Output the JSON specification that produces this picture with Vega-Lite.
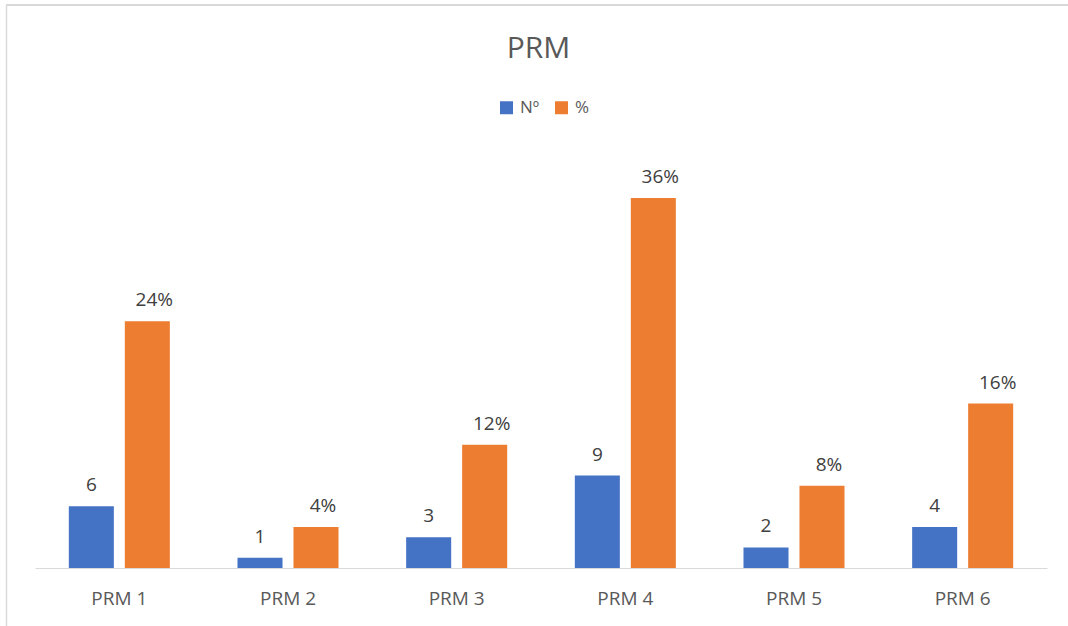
{
  "$schema": "https://vega.github.io/schema/vega-lite/v6.json",
  "width": 1062,
  "height": 621,
  "autosize": {"type": "none"},
  "padding": {"left": 6, "top": 5, "right": 0, "bottom": 0},
  "background": "white",
  "config": {"view": {"stroke": null}, "font": "Open Sans"},
  "data": {"values": [
    {"cat": "PRM 1", "series": "Nº", "value": 6, "label": "6"},
    {"cat": "PRM 1", "series": "%", "value": 24, "label": "24%"},
    {"cat": "PRM 2", "series": "Nº", "value": 1, "label": "1"},
    {"cat": "PRM 2", "series": "%", "value": 4, "label": "4%"},
    {"cat": "PRM 3", "series": "Nº", "value": 3, "label": "3"},
    {"cat": "PRM 3", "series": "%", "value": 12, "label": "12%"},
    {"cat": "PRM 4", "series": "Nº", "value": 9, "label": "9"},
    {"cat": "PRM 4", "series": "%", "value": 36, "label": "36%"},
    {"cat": "PRM 5", "series": "Nº", "value": 2, "label": "2"},
    {"cat": "PRM 5", "series": "%", "value": 8, "label": "8%"},
    {"cat": "PRM 6", "series": "Nº", "value": 4, "label": "4"},
    {"cat": "PRM 6", "series": "%", "value": 16, "label": "16%"}
  ]},
  "encoding": {
    "x": {"field": "cat", "type": "nominal", "sort": null,
      "scale": {"range": [29, 1041], "paddingInner": 0, "paddingOuter": 0},
      "axis": {"title": null, "orient": "bottom", "offset": -58, "domainColor": "#D9D9D9", "domainWidth": 1, "ticks": false, "labelPadding": 21, "labelFontSize": 19, "labelColor": "#595959", "labelFont": "Open Sans", "labelAngle": 0, "grid": false}},
    "xOffset": {"field": "series", "type": "nominal", "sort": ["Nº", "%"], "scale": {"paddingInner": 0.196, "paddingOuter": 0.604}},
    "y": {"field": "value", "type": "quantitative",
      "scale": {"domain": [-5.64, 54.77], "nice": false, "zero": false},
      "axis": {"title": "PRM", "titleAngle": 0, "titleX": 532, "titleY": 52, "titleAlign": "center", "titleBaseline": "alphabetic", "titleFontSize": 30, "titleFontWeight": "normal", "titleColor": "#595959", "titleFont": "Open Sans",
        "labels": false, "ticks": false, "grid": false, "domain": true, "domainColor": "#D9D9D9", "domainWidth": 1.5}}
  },
  "layer": [
    {"mark": {"type": "bar"},
     "encoding": {
       "y2": {"datum": 0},
       "color": {"field": "series", "type": "nominal", "sort": ["Nº", "%"],
         "scale": {"domain": ["Nº", "%"], "range": ["#4472C4", "#ED7D31"]},
         "legend": {"title": null, "orient": "none", "legendX": 492, "legendY": 94, "direction": "horizontal", "symbolType": "square", "symbolSize": 169, "symbolStrokeWidth": 0, "symbolOpacity": 1, "labelFontSize": 17, "labelColor": "#595959", "labelFont": "Open Sans", "columnPadding": 13, "labelOffset": 5, "padding": 0}}
     }},
    {"transform": [{"filter": "datum.series == 'Nº'"}],
     "mark": {"type": "text", "baseline": "alphabetic", "dy": -15, "fontSize": 19, "color": "#404040", "font": "Open Sans"},
     "encoding": {"text": {"field": "label"}}},
    {"transform": [{"filter": "datum.series == '%'"}],
     "mark": {"type": "text", "baseline": "alphabetic", "dy": -15, "dx": 7, "fontSize": 19, "color": "#404040", "font": "Open Sans"},
     "encoding": {"text": {"field": "label"}}},
    {"mark": {"type": "rule", "color": "#D9D9D9", "strokeWidth": 1.5},
     "encoding": {"y": {"datum": 54.77}, "x": null, "xOffset": null}}
  ]
}
